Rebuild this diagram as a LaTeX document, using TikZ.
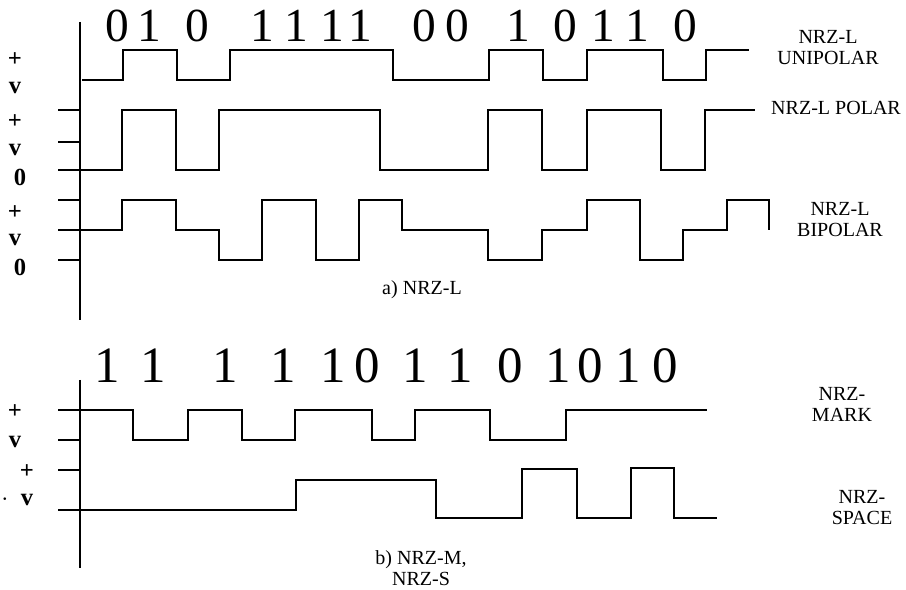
\documentclass[tikz,border=0pt]{standalone}
\usepackage{fontspec}
\setmainfont{Liberation Serif}

\begin{document}
\begin{tikzpicture}[x=0.02cm,y=-0.02cm]
		\tikzset{
		    wave/.style={line width=1.1pt, line join=miter},
		    axisline/.style={line width=1.4pt},
		    tickline/.style={line width=1.1pt},
		    bit/.style={font=\fontsize{27}{27}\selectfont, inner sep=0pt},
		    bitb/.style={font=\fontsize{29}{29}\selectfont, inner sep=0pt},
		    lvl/.style={font=\bfseries\fontsize{14}{14}\selectfont, inner sep=0pt},
		    code/.style={font=\fontsize{11.4}{12}\selectfont, align=center, inner sep=0pt}
		}
		\useasboundingbox (0,0) rectangle (906,590);

		% axes
		\draw[axisline] (80,22) -- (80,320);
		\draw[axisline] (80,380) -- (80,568);
		\foreach \y in {110,142,170,200,230,260,410,440,470,510}
		    \draw[tickline] (58,\y) -- (80,\y);

		% bits
		\foreach \x/\d [count=\i] in {117/0,149/1,197/0,262/1,296/1,332/1,360/1,424/0,457/0,518/1,565/0,603/1,637/1,685/0}
		    \node[bit] (ta\i) at (\x,26) {\d};
		\foreach \x/\d [count=\i] in {107/1,153/1,225/1,283/1,333/1,367/0,415/1,460/1,510/0,558/1,590/0,628/1,665/0}
		    \node[bitb] (tb\i) at (\x,366) {\d};

		% levels
		\node[lvl] (pa) at (15,60) {+};
		\node[lvl] (va) at (15,88) {v};
		\node[lvl] (pb) at (15,122) {+};
		\node[lvl] (vb) at (15,150) {v};
		\node[lvl] (zb) at (20,177) {0};
		\node[lvl] (pc) at (15,213) {+};
		\node[lvl] (vc) at (15,240) {v};
		\node[lvl] (zc) at (20,267) {0};
		\node[lvl] (pd) at (15,412) {+};
		\node[lvl] (vd) at (15,442) {v};
		\node[lvl] (pe) at (27,472) {+};
		\node[lvl] (ve) at (27,500) {v};
		\node[lvl] (dot) at (5,500) {$\cdot$};

		% waveforms
		\draw[wave] (82,80) -- (123,80) -- (123,50) -- (177,50) -- (177,80) -- (230,80) -- (230,50) -- (393,50) -- (393,80) -- (489,80) -- (489,50) -- (543,50) -- (543,80) -- (587,80) -- (587,50) -- (663,50) -- (663,80) -- (706,80) -- (706,50) -- (749,50);
		\draw[wave] (80,170) -- (122,170) -- (122,110) -- (176,110) -- (176,170) -- (219,170) -- (219,110) -- (380,110) -- (380,170) -- (488,170) -- (488,110) -- (542,110) -- (542,170) -- (587,170) -- (587,110) -- (661,110) -- (661,170) -- (705,170) -- (705,110) -- (755,110);
		\draw[wave] (80,230) -- (122,230) -- (122,200) -- (176,200) -- (176,230) -- (219,230) -- (219,260) -- (262,260) -- (262,200) -- (316,200) -- (316,260) -- (359,260) -- (359,200) -- (402,200) -- (402,230) -- (488,230) -- (488,260) -- (542,260) -- (542,230) -- (587,230) -- (587,200) -- (640,200) -- (640,260) -- (683,260) -- (683,230) -- (727,230) -- (727,200) -- (769,200) -- (769,230);
		\draw[wave] (80,410) -- (133,410) -- (133,440) -- (188,440) -- (188,410) -- (242,410) -- (242,440) -- (295,440) -- (295,410) -- (372,410) -- (372,440) -- (415,440) -- (415,410) -- (490,410) -- (490,440) -- (566,440) -- (566,410) -- (707,410);
		\draw[wave] (80,510) -- (296,510) -- (296,480) -- (436,480) -- (436,518) -- (522,518) -- (522,469) -- (577,469) -- (577,518) -- (631,518) -- (631,468) -- (674,468) -- (674,518) -- (717,518);

		% names
		\node[code] (uni) at (828,48) {NRZ-L\\UNIPOLAR};
		\node[code] (pol) at (836,108) {NRZ-L POLAR};
		\node[code] (bip) at (840,220) {NRZ-L\\BIPOLAR};
		\node[code] (capa) at (422,290) {a) NRZ-L};
		\node[code] (mark) at (842,404) {NRZ-\\MARK};
		\node[code] (space) at (862,508) {NRZ-\\SPACE};
		\node[code] (capb) at (421,568) {b) NRZ-M,\\NRZ-S};

	\end{tikzpicture}
\end{document}
